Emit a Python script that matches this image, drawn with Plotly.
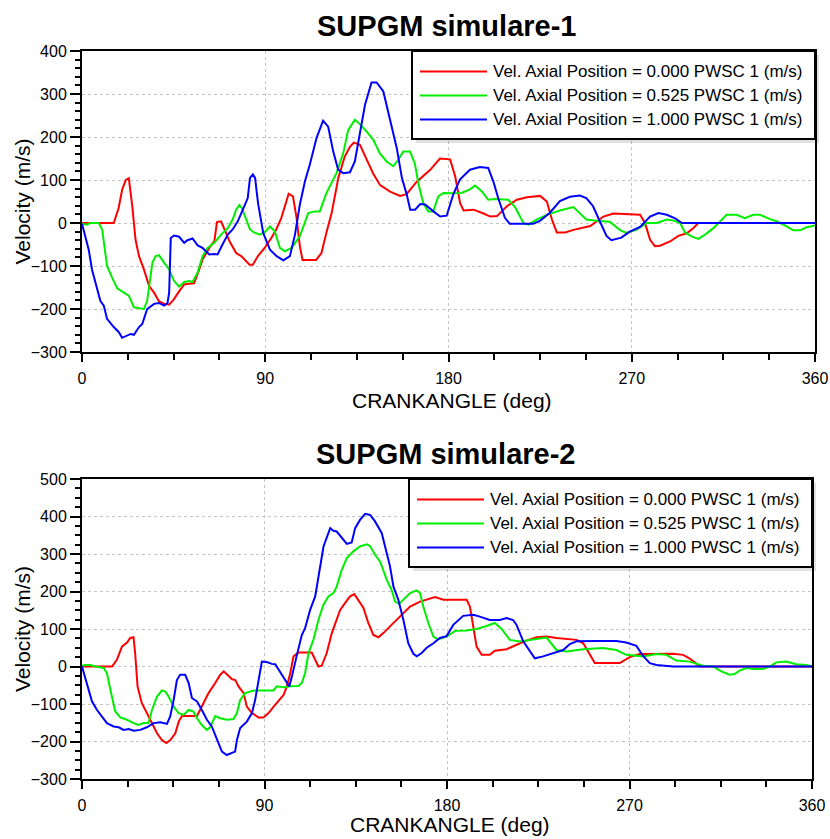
import plotly.graph_objects as go

# ---------------- data: crank angle (deg) and axial velocity (m/s) ----------------
series_names = [
    "Vel. Axial Position = 0.000 PWSC 1 (m/s)",
    "Vel. Axial Position = 0.525 PWSC 1 (m/s)",
    "Vel. Axial Position = 1.000 PWSC 1 (m/s)",
]
series_colors = ["#ff0000", "#00ee00", "#0000ff"]
chart_titles = ["SUPGM simulare-1", "SUPGM simulare-2"]
x_title = "CRANKANGLE (deg)"
y_title = "Velocity (m/s)"

# simulation 1
sim1_p000_deg = [0, 15.6, 18, 19.7, 21.5, 23, 24.7, 26.3, 28, 30.4, 33, 35.4, 37.8, 40.3, 42.8, 45, 47.7, 50.2, 52.6, 55,
                 57.6, 59.2, 62.5, 65, 66.3, 68.3, 70, 72.4, 75.7, 78.2, 82.3, 83.9, 86.4, 89.7, 93, 95.4, 97.9, 100.4,
                 101.5, 103.6, 105.3, 107, 108.3, 115, 117.6, 120, 122.6, 125.9, 129, 131.6, 133.5, 136.5, 138.5, 143,
                 146.4, 151.3, 156.2, 159.4, 164.4, 170.9, 175.8, 180.8, 183.3, 185.7, 187.4, 192.3, 197.2, 200.5, 203.8,
                 208.7, 213.6, 218.5, 225, 228.3, 230.8, 233.2, 237.3, 241.4, 249.6, 252.8, 256.1, 261, 269.2, 274.1,
                 276.5, 279, 281.4, 283.9, 288.8, 292.9, 297, 300.2, 302.7, 360]
sim1_p000_vel = [0, 0, 35, 77, 100, 104, 39, -39, -77, -108, -147, -162, -182, -188, -190, -178, -159, -143, -141, -140,
                 -108, -85, -58, -42, 2, 4, -15, -42, -70, -77, -97, -97, -77, -58, -35, -15, 12, 54,
                 68, 62, 15, -54, -86, -86, -70, -23, 23, 105, 154, 177, 187, 182, 162, 115,
                 88, 73, 63, 67, 96, 123, 150, 148, 108, 46, 29, 31, 22, 15, 16,
                 39, 54, 60, 63, 50, 8, -22, -22, -16, -7, 3, 15, 22, 21, 19,
                 0, -39, -54, -53, -43, -30, -24, -12, 0, 0]

sim1_p525_deg = [0, 2.5, 4, 8.2, 9.9, 12.3, 14.8, 17.3, 20.6, 23, 25.5, 28.8, 30.4, 32, 34.6, 36.2, 37.8, 40.3, 42.8,
                 45.2, 47.7, 50.2, 52.6, 54.3, 56.8, 59.2, 61.7, 65, 68.3, 71.6, 74, 75.7, 77.3, 78.5, 80.6, 82.5, 84.5,
                 87.4, 90, 92.3, 94.7, 97.2, 99.6, 102.9, 107, 111.1, 114.4, 116.8, 120.1, 125, 128.3, 130.7, 134, 136.5,
                 139.7, 143, 146.3, 149.6, 152.9, 155.3, 157.8, 161.1, 163.5, 165.2, 167.6, 170.1, 172.5, 175, 177.5,
                 182.3, 186.4, 190.5, 193, 196.3, 199.5, 202.8, 209.4, 212.7, 216.8, 219.2, 223.3, 228.2, 234.7, 241.3,
                 244.5, 247.7, 252.6, 259.2, 264.1, 267.3, 272.2, 277.4, 282.3, 287.2, 290.4, 293.7, 296.2, 299.4,
                 302.7, 306, 310.1, 313.3, 316.6, 321.5, 325.6, 329.7, 333, 337.9, 341.2, 346.1, 349.3, 352.6, 355.9,
                 360]
sim1_p525_vel = [-2, -4, 0, 0, -15, -100, -127, -152, -162, -169, -196, -198, -200, -181, -92, -77, -75, -92, -108,
                 -135, -148, -137, -135, -137, -115, -77, -58, -46, -27, -12, 8, 31, 42, 35, 8, -15, -22,
                 -27, -20, -8, -19, -58, -66, -58, -31, 23, 27, 27, 70, 116, 162, 216, 240, 230,
                 213, 194, 162, 143, 132, 147, 166, 166, 138, 92, 46, 27, 27, 62, 70,
                 69, 70, 78, 87, 74, 54, 56, 54, 37, 0, -4, 8, 19, 29, 37,
                 23, 8, 5, 3, -16, -23, -16, 0, 0, 8, 6, 0, -22, -31,
                 -37, -27, -12, 3, 19, 19, 11, 19, 19, 9, 4, -8, -17, -17, -10,
                 -6]

sim1_p100_deg = [0, 1.6, 3.3, 4.9, 6.6, 9, 10.7, 12.3, 15.6, 18.1, 19.7, 22.2, 23.9, 25.5, 28, 29.6, 32, 35.4, 37.8,
                 40.3, 42, 42.8, 43.6, 45.2, 47.7, 50.2, 51.8, 54.3, 56.8, 59.2, 62.5, 65, 66.6, 69, 71.6, 74, 76.5,
                 79, 81.4, 82.5, 83.9, 85, 86.5, 89, 92.3, 95.6, 98.9, 102.1, 104.6, 107, 109.5, 111.9, 115.2, 118.4,
                 120.9, 123.4, 125.8, 128.3, 131.6, 134, 136.5, 139, 142.2, 144.7, 148, 149.6, 152.1, 154.6, 157.1,
                 159.5, 161.2, 163.6, 166.1, 168.5, 172.6, 175.9, 179.1, 182.3, 185.6, 190.5, 195.4, 199.5, 202, 204.4,
                 207.7, 210.1, 221.6, 224.9, 229.8, 234.7, 239.6, 244.5, 247.7, 251, 254.3, 257.6, 260, 264.9, 269,
                 274.1, 279, 283.1, 287.2, 291.3, 294.6, 360]
sim1_p100_vel = [-2, -31, -62, -108, -138, -181, -192, -223, -242, -254, -267, -262, -258, -260, -242, -235, -200, -188,
                 -186, -192, -186, -162, -35, -29, -32, -46, -40, -36, -52, -58, -73, -72, -73, -50, -27, -15, 4,
                 31, 58, 105, 113, 105, 45, -23, -62, -77, -87, -77, -27, 43, 97, 136, 198, 238,
                 224, 166, 124, 116, 118, 143, 213, 275, 327, 327, 306, 275, 228, 174, 105,
                 66, 31, 31, 44, 43, 27, 15, 17, 66, 101, 124, 130, 128, 97, 58,
                 12, -2, -2, 5, 24, 51, 61, 64, 58, 39, 4, -30, -40, -34, -20,
                 -9, 15, 23, 19, 11, 0, 0]

# simulation 2
sim2_p000_deg = [0, 14.8, 17.2, 19.7, 22.2, 23.8, 25.4, 26.2, 27.4, 29.5, 32, 34.5, 37, 39.4, 41.6, 43.6, 46, 47.7,
                 49.3, 56.7, 59.1, 62.4, 65.7, 68.2, 69.9, 71.5, 74, 75.6, 77.2, 79.7, 81.3, 83.8, 87.1, 89.5, 92, 94.5,
                 96.9, 99.4, 101, 102.7, 104.3, 106.7, 113.3, 115, 116.6, 118.2, 120.7, 123.2, 125.6, 127.3, 129.7,
                 132.2, 134.3, 136.3, 138.8, 141.2, 143.7, 146.2, 148.6, 151.9, 155.2, 158.5, 161.8, 166.7, 171.6, 174.1,
                 178.2, 189.7, 191.3, 193, 194.6, 197.1, 201.1, 203.6, 209.4, 214.3, 219.2, 224.2, 229, 234, 238.9,
                 243.9, 247.2, 250.4, 252.9, 265.2, 270.1, 275, 283.3, 291.5, 296.4, 298.9, 302.2, 304.6, 360]
sim2_p000_vel = [0, 0, 18, 53, 64, 76, 78, 36, -53, -98, -124, -151, -178, -196, -204, -196, -178, -147,
                 -132, -132, -107, -71, -44, -22, -13, -22, -34, -36, -53, -71, -107, -124, -136, -136, -124, -107,
                 -93, -76, -53, -18, 27, 37, 37, 18, 0, 2, 36, 89, 124, 151, 169,
                 187, 193, 178, 156, 116, 84, 78, 89, 107, 124, 142, 160, 173, 182, 185,
                 178, 178, 160, 107, 53, 31, 31, 42, 46, 58, 69, 78, 80, 76, 73,
                 71, 62, 31, 9, 9, 25, 33, 34, 34, 31, 24, 11, 0, 0]

sim2_p525_deg = [0, 1.6, 4.1, 6.6, 10.7, 12.3, 14, 16.4, 18.9, 22.2, 25.5, 27.9, 30.4, 32.8, 34.5, 37, 39.4, 41.1, 42.7,
                 45.2, 47.6, 50.1, 52.6, 55, 56.7, 59.1, 61.6, 63.2, 65.7, 68.2, 71.4, 74.7, 76.4, 78, 80.5, 84.6, 89.5,
                 94.4, 96.1, 99.4, 102.6, 106.7, 108.4, 110, 111.7, 114.1, 116.6, 119, 121.5, 124, 125.6, 128.1, 130.6,
                 133.8, 137.1, 140.4, 142.1, 144.5, 147, 150.3, 152.7, 154.4, 156.4, 158.5, 161.8, 165, 166.7, 168.3,
                 170.8, 173.3, 175.5, 179.8, 184, 189.7, 194.6, 199.5, 203.6, 206.9, 211, 215.9, 222.5, 229.1, 234,
                 238.9, 247.2, 257, 263.5, 268.4, 276.7, 283.3, 288.2, 293.1, 299.7, 306.2, 311.2, 315.3, 319.4, 321.8,
                 324.3, 327.6, 330.9, 335.8, 339.1, 342.4, 347.3, 352.2, 357.2, 360]
sim2_p525_vel = [2, 4, 4, 0, -4, -18, -62, -120, -136, -142, -151, -156, -151, -151, -116, -80, -64, -67, -80,
                 -107, -124, -129, -116, -120, -138, -156, -169, -162, -132, -138, -142, -140, -124, -89, -71, -64, -64,
                 -64, -53, -55, -53, -52, -44, -18, 36, 71, 124, 164, 187, 196, 213, 258, 289,
                 307, 320, 326, 321, 298, 280, 231, 204, 173, 167, 178, 196, 203, 196, 160,
                 116, 80, 72, 80, 95, 96, 100, 108, 116, 100, 71, 67, 73, 77, 44,
                 40, 46, 49, 44, 31, 27, 33, 31, 16, 13, 2, 0, -13, -22, -20,
                 -11, -4, -7, -7, 0, 11, 13, 6, 4, 0]

sim2_p100_deg = [0, 1.6, 3.3, 4.9, 7.4, 9.9, 12.3, 15.6, 18.1, 20.5, 23, 25.5, 28.7, 32, 35.3, 38.6, 41.9, 43.5, 45.2,
                 46.8, 48.4, 50.9, 52.6, 54.2, 56.7, 59.1, 61.6, 64, 66.5, 69, 71.4, 73.9, 75.5, 76.4, 78, 81.3, 83.8,
                 85.4, 87, 88.7, 91.1, 93.6, 95.3, 97.7, 100.2, 102.2, 103.5, 106, 108.4, 110, 112.5, 115, 116.6, 119.1,
                 122.4, 124, 125.6, 128.1, 130.6, 133, 134.7, 137.1, 139.6, 142.1, 144.5, 147.8, 150.3, 151.9, 153.6,
                 156, 158.5, 160.9, 163.4, 165.1, 167.5, 170, 173.3, 176.5, 179.8, 183.1, 188, 192.9, 196.2, 201.1, 206,
                 209.4, 212.6, 214.3, 217.6, 220.9, 223.3, 227.4, 232.4, 237.3, 240.6, 243.9, 253.7, 263.5, 268.4,
                 273.4, 276.7, 280, 283.3, 291.5, 360]
sim2_p100_vel = [0, -31, -62, -93, -116, -133, -151, -160, -162, -169, -167, -171, -169, -162, -151, -149, -153, -133,
                 -89, -36, -22, -22, -44, -84, -93, -116, -142, -160, -196, -227, -236, -231, -227, -196, -164, -147,
                 -124, -89, -36, 13, 12, 7, 6, -13, -36, -53, -27, 31, 84, 102, 151, 187, 236, 320,
                 369, 362, 360, 342, 327, 331, 369, 391, 407, 404, 387, 356, 302, 267, 213,
                 178, 124, 62, 34, 27, 36, 50, 62, 76, 81, 111, 135, 138, 133, 124, 124,
                 129, 124, 111, 67, 40, 22, 27, 36, 44, 60, 67, 68, 68, 64,
                 55, 28, 9, 4, 0, 0]

charts = [
    [(sim1_p000_deg, sim1_p000_vel), (sim1_p525_deg, sim1_p525_vel), (sim1_p100_deg, sim1_p100_vel)],
    [(sim2_p000_deg, sim2_p000_vel), (sim2_p525_deg, sim2_p525_vel), (sim2_p100_deg, sim2_p100_vel)],
]
y_ranges = [(-300, 400), (-300, 500)]
y_minor = [20, 25]

# ---------------- page geometry (px) ----------------
W, H = 830, 839
FONT = "Liberation Sans, Arial, sans-serif"
# plot rectangles: left, right, top, bottom
boxes = [(82, 815, 51, 352), (82, 812, 479, 779)]
# vertical centre of each x-axis title
x_title_pos = [401, 824]


def px_x(x):
    return x / W


def px_y(y):
    return 1 - y / H


fig = go.Figure()

for i, series in enumerate(charts):
    sfx = "" if i == 0 else str(i + 1)
    for (deg, vel), name, color in zip(series, series_names, series_colors):
        fig.add_trace(go.Scatter(
            x=deg, y=vel, mode="lines", name=name,
            line=dict(color=color, width=2),
            xaxis="x" + sfx, yaxis="y" + sfx, showlegend=False,
        ))

axis_common = dict(
    showline=True, linecolor="black", linewidth=2, mirror=True,
    ticks="outside", tickcolor="black", tickwidth=2,
    showgrid=True, gridcolor="#c4c4c4", griddash="dot", gridwidth=1,
    zeroline=False, automargin=False,
    tickfont=dict(family=FONT, size=16, color="black"),
)

annotations = []
shapes = []
layout_axes = {}
for i, (l, r, t, b) in enumerate(boxes):
    sfx = "" if i == 0 else str(i + 1)
    layout_axes["xaxis" + sfx] = dict(
        axis_common, domain=[px_x(l), px_x(r)], anchor="y" + sfx,
        range=[0, 360], tick0=0, dtick=90, ticklen=8, ticklabelstandoff=3,
        minor=dict(dtick=22.5, ticks="outside", ticklen=6, tickwidth=2, tickcolor="black", showgrid=False),
    )
    layout_axes["yaxis" + sfx] = dict(
        axis_common, domain=[px_y(b), px_y(t)], anchor="x" + sfx,
        range=list(y_ranges[i]), tick0=0, dtick=100, ticklen=10,
        minor=dict(dtick=y_minor[i], ticks="outside", ticklen=5, tickwidth=2, tickcolor="black", showgrid=False),
    )

    cx = (l + r) / 2
    # chart title
    annotations.append(dict(
        text="<b>" + chart_titles[i] + "</b>", x=px_x(cx - 2), y=px_y(t - 25),
        xref="paper", yref="paper", xanchor="center", yanchor="middle", showarrow=False,
        font=dict(family=FONT, size=29, color="black"),
    ))
    # axis titles
    annotations.append(dict(
        text=x_title, x=px_x(cx + 3), y=px_y(x_title_pos[i]),
        xref="paper", yref="paper", xanchor="center", yanchor="middle", showarrow=False,
        font=dict(family=FONT, size=21, color="black"),
    ))
    annotations.append(dict(
        text=y_title, x=px_x(22), y=px_y((t + b) / 2), textangle=-90,
        xref="paper", yref="paper", xanchor="center", yanchor="middle", showarrow=False,
        font=dict(family=FONT, size=21, color="black"),
    ))

    # legend box in the top-right corner of the plot
    lg_l, lg_r, lg_t, lg_b = r - 403, r, t, t + 88
    shapes.append(dict(
        type="rect", xref="paper", yref="paper", layer="above",
        x0=px_x(lg_l + 4), x1=px_x(lg_r + 4), y0=px_y(lg_b + 4), y1=px_y(lg_t + 4),
        line=dict(width=0), fillcolor="rgba(0,0,0,0.12)",
    ))
    shapes.append(dict(
        type="rect", xref="paper", yref="paper", layer="above",
        x0=px_x(lg_l), x1=px_x(lg_r), y0=px_y(lg_b), y1=px_y(lg_t),
        line=dict(color="black", width=2), fillcolor="white",
    ))
    for k, (name, color) in enumerate(zip(series_names, series_colors)):
        yy = lg_t + 20.5 + 24 * k
        shapes.append(dict(
            type="line", xref="paper", yref="paper", layer="above",
            x0=px_x(lg_l + 8), x1=px_x(lg_l + 75), y0=px_y(yy), y1=px_y(yy),
            line=dict(color=color, width=2),
        ))
        annotations.append(dict(
            text=name, x=px_x(lg_l + 79), y=px_y(yy),
            xref="paper", yref="paper", xanchor="left", yanchor="middle", showarrow=False,
            font=dict(family=FONT, size=17, color="black"),
        ))

fig.update_layout(
    width=W, height=H, autosize=False,
    margin=dict(l=0, r=0, t=0, b=0),
    paper_bgcolor="white", plot_bgcolor="white",
    showlegend=False,
    annotations=annotations, shapes=shapes,
    **layout_axes,
)

fig.write_html("out.html")
